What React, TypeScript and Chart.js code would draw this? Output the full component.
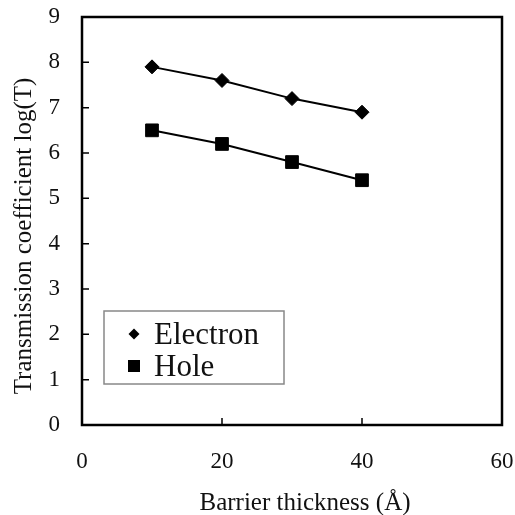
import React, { useEffect, useRef } from "react";
import { Chart, registerables } from "chart.js";

Chart.register(...registerables);

const thickness = [10, 20, 30, 40];
const electronLogT = [7.9, 7.6, 7.2, 6.9];
const holeLogT = [6.5, 6.2, 5.8, 5.4];
const xTicks = [0, 20, 40, 60];
const yTicks = [0, 1, 2, 3, 4, 5, 6, 7, 8, 9];
const seriesNames = ["Electron", "Hole"];
const xTitle = "Barrier thickness (Å)";
const yTitle = "Transmission coefficient log(T)";

const FONT = "'Liberation Serif', 'Times New Roman', serif";

function drawMarker(ctx: CanvasRenderingContext2D, style: string, r: number, x: number, y: number) {
  ctx.beginPath();
  if (style === "rectRot") {
    ctx.moveTo(x, y - r);
    ctx.lineTo(x + r, y);
    ctx.lineTo(x, y + r);
    ctx.lineTo(x - r, y);
    ctx.closePath();
  } else {
    ctx.rect(x - r, y - r, 2 * r, 2 * r);
  }
  ctx.fill();
}

const framePlugin = {
  id: "frame",
  afterDraw(chart: any) {
    const { ctx, chartArea } = chart;
    const { left, right, top, bottom } = chartArea;
    const xs = chart.scales.x;
    const ys = chart.scales.y;
    ctx.save();
    ctx.strokeStyle = "#000";
    ctx.lineWidth = 1.5;
    ctx.beginPath();
    xs.ticks.forEach((t: any) => {
      const px = xs.getPixelForValue(t.value);
      if (px > left + 2 && px < right - 2) {
        ctx.moveTo(px, bottom);
        ctx.lineTo(px, bottom - 7);
      }
    });
    ys.ticks.forEach((t: any) => {
      const py = ys.getPixelForValue(t.value);
      if (py > top + 2 && py < bottom - 2) {
        ctx.moveTo(left, py);
        ctx.lineTo(left + 7, py);
      }
    });
    ctx.stroke();
    ctx.lineWidth = 2.5;
    ctx.strokeRect(left, top, right - left, bottom - top);

    ctx.fillStyle = "#111";
    ctx.font = `25px ${FONT}`;
    ctx.textAlign = "center";
    ctx.textBaseline = "alphabetic";
    ctx.fillText(xTitle, 305, 510);
    ctx.save();
    ctx.translate(31, 236);
    ctx.rotate(-Math.PI / 2);
    ctx.fillText(yTitle, 0, 0);
    ctx.restore();

    ctx.strokeStyle = "#888";
    ctx.lineWidth = 1.5;
    ctx.strokeRect(104, 311, 180, 73);
    ctx.font = `31px ${FONT}`;
    ctx.textAlign = "left";
    const rows = [
      { y: 334, style: "rectRot", r: 5.5 },
      { y: 366, style: "rect", r: 6 },
    ];
    chart.data.datasets.forEach((ds: any, i: number) => {
      const row = rows[i];
      ctx.fillStyle = "#000";
      drawMarker(ctx, row.style, row.r, 134, row.y);
      ctx.fillStyle = "#111";
      ctx.textBaseline = "alphabetic";
      ctx.fillText(ds.label, 154, row.y + 10);
    });
    ctx.restore();
  },
};

export default function App() {
  const ref = useRef<HTMLCanvasElement | null>(null);
  useEffect(() => {
    if (!ref.current) return;
    const chart = new Chart(ref.current, {
      type: "scatter",
      data: {
        datasets: [
          {
            label: seriesNames[0],
            data: thickness.map((x, i) => ({ x, y: electronLogT[i] })),
            showLine: true,
            borderColor: "#000",
            backgroundColor: "#000",
            borderWidth: 2,
            pointStyle: "rectRot",
            pointRadius: 7,
            pointBorderWidth: 1,
          },
          {
            label: seriesNames[1],
            data: thickness.map((x, i) => ({ x, y: holeLogT[i] })),
            showLine: true,
            borderColor: "#000",
            backgroundColor: "#000",
            borderWidth: 2,
            pointStyle: "rect",
            pointRadius: 9,
            pointBorderWidth: 1,
          },
        ],
      },
      options: {
        animation: false,
        responsive: false,
        devicePixelRatio: 1,
        layout: { padding: { top: 17, right: 13, left: 0, bottom: 0 } },
        plugins: { legend: { display: false }, tooltip: { enabled: false } },
        scales: {
          x: {
            type: "linear",
            min: 0,
            max: 60,
            afterBuildTicks: (s: any) => {
              s.ticks = xTicks.map((v) => ({ value: v }));
            },
            afterFit: (s: any) => {
              s.height = 90;
              s.paddingLeft = 0;
              s.paddingRight = 0;
            },
            grid: { display: false, drawTicks: false },
            border: { display: false },
            ticks: {
              padding: 23,
              color: "#111",
              font: { family: FONT, size: 23 },
              maxRotation: 0,
            },
          },
          y: {
            type: "linear",
            min: 0,
            max: 9,
            afterBuildTicks: (s: any) => {
              s.ticks = yTicks.map((v) => ({ value: v }));
            },
            afterFit: (s: any) => {
              s.width = 82;
              s.paddingTop = 0;
              s.paddingBottom = 0;
            },
            grid: { display: false, drawTicks: false },
            border: { display: false },
            ticks: {
              padding: 22,
              color: "#111",
              font: { family: FONT, size: 23 },
            },
          },
        },
      },
      plugins: [framePlugin],
    } as any);
    return () => chart.destroy();
  }, []);
  return (
    <div style={{ position: "fixed", left: 0, top: 0, width: 515, height: 515, background: "#fff" }}>
      <canvas ref={ref} width={515} height={515} style={{ width: 515, height: 515, display: "block" }} />
    </div>
  );
}
